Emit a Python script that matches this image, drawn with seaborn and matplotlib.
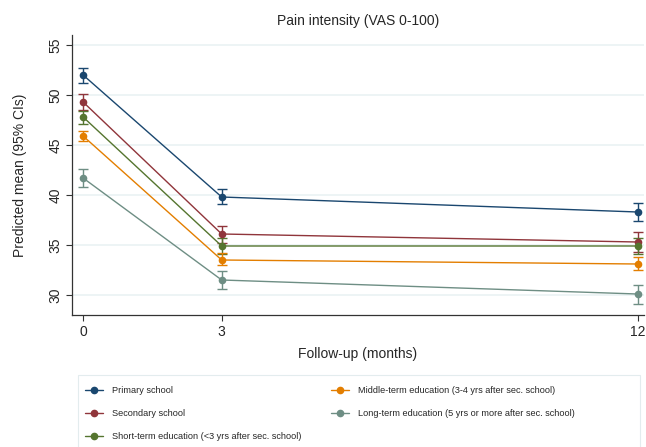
import numpy as np
import pandas as pd
import seaborn as sns
import matplotlib.pyplot as plt
from matplotlib.patches import Rectangle

months = [0, 3, 12]
groups = ["Primary school", "Secondary school", "Short-term education (<3 yrs after sec. school)",
          "Middle-term education (3-4 yrs after sec. school)",
          "Long-term education (5 yrs or more after sec. school)"]
colors = ["#1a476f", "#90353b", "#55752f", "#e37e00", "#6e8e84"]

primary = [52.0, 39.8, 38.3]
primary_lo = [51.2, 39.1, 37.4]
primary_hi = [52.7, 40.6, 39.2]
secondary = [49.3, 36.1, 35.3]
secondary_lo = [48.5, 35.2, 34.3]
secondary_hi = [50.1, 36.9, 36.3]
short_term = [47.8, 34.9, 34.9]
short_term_lo = [47.1, 34.1, 34.1]
short_term_hi = [48.4, 35.7, 35.7]
middle_term = [45.9, 33.5, 33.1]
middle_term_lo = [45.4, 33.0, 32.5]
middle_term_hi = [46.4, 34.2, 33.8]
long_term = [41.7, 31.5, 30.1]
long_term_lo = [40.8, 30.6, 29.1]
long_term_hi = [42.6, 32.4, 31.0]

means = [primary, secondary, short_term, middle_term, long_term]
lows = [primary_lo, secondary_lo, short_term_lo, middle_term_lo, long_term_lo]
highs = [primary_hi, secondary_hi, short_term_hi, middle_term_hi, long_term_hi]

rows = []
for g, m, lo, hi in zip(groups, means, lows, highs):
    for x, v, l, h in zip(months, m, lo, hi):
        rows.append({"month": x, "group": g, "mean": v, "lo": l, "hi": h})
df = pd.DataFrame(rows)

sns.set_style("white")
plt.rcParams['font.family'] = ['Liberation Sans', 'DejaVu Sans']

fig = plt.figure(figsize=(6.46, 4.47), dpi=100)
ax = fig.add_axes([72 / 646, 1 - 315 / 447, 572 / 646, 280 / 447])

for yv in [30, 35, 40, 45, 50, 55]:
    ax.axhline(yv, color="#eaf2f3", lw=1.2, zorder=0)

pal = dict(zip(groups, colors))
sns.lineplot(data=df, x="month", y="mean", hue="group", palette=pal, marker="o",
             markersize=5.5, markeredgewidth=0, lw=1, ax=ax, legend=False, zorder=3)
for g in groups:
    d = df[df.group == g]
    ax.errorbar(d["month"], d["mean"], yerr=[d["mean"] - d["lo"], d["hi"] - d["mean"]],
                fmt="none", ecolor=pal[g], elinewidth=1, capsize=3.3, capthick=1, zorder=2)

ax.set_xlim(-0.24, 12.14)
ax.set_ylim(28.0, 56.0)
ax.set_xticks(months)
ax.set_yticks([30, 35, 40, 45, 50, 55])
ax.tick_params(axis="both", direction="out", length=4, width=0.8, color="#333333",
               labelsize=10, left=True, bottom=True, pad=3)
for lbl in ax.get_yticklabels():
    lbl.set_rotation(90)
    lbl.set_va("center")
for s in ["top", "right"]:
    ax.spines[s].set_visible(False)
for s in ["left", "bottom"]:
    ax.spines[s].set_color("#333333")
    ax.spines[s].set_linewidth(0.9)

ax.set_title("Pain intensity (VAS 0-100)", fontsize=10, pad=7)
ax.set_xlabel("Follow-up (months)", fontsize=10, labelpad=6)
ax.set_ylabel("Predicted mean (95% CIs)", fontsize=10, labelpad=15)

# legend box, Stata style
fig.patches.append(Rectangle((78 / 646, -0.01), 562 / 646, 1 - 375 / 447 + 0.01,
                             transform=fig.transFigure, fill=False,
                             edgecolor="#e3ecee", lw=0.8))
handles = [plt.Line2D([], [], color=c, marker="o", markersize=4.5, lw=1) for c in colors]
fig.legend(handles, groups, loc="upper left", ncol=2,
           bbox_to_anchor=(78 / 646, 1 - 379 / 447),
           fontsize=6.6, frameon=False,
           handlelength=2.0, handletextpad=1.0, labelspacing=1.55,
           borderpad=0.76, borderaxespad=0, columnspacing=3.15)

fig.savefig("out.png", dpi=100)
